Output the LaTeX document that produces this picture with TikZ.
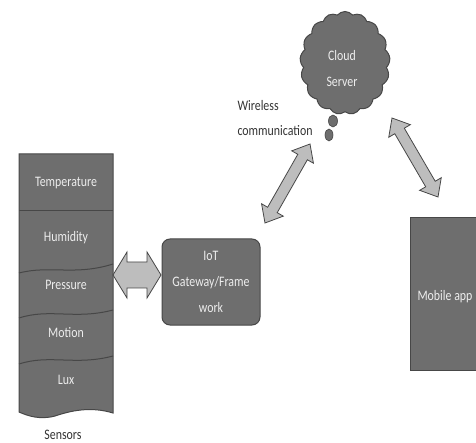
\documentclass[tikz,border=0pt]{standalone}
\usepackage{fontspec}
\setmainfont{Carlito}[FakeStretch=0.82]
\usetikzlibrary{calc}
\usetikzlibrary{shapes.symbols}
\definecolor{boxfill}{HTML}{6E6E6E}
\definecolor{boxedge}{HTML}{474747}
\definecolor{arrfill}{HTML}{BDBDBD}
\definecolor{boxtext}{HTML}{EDEDED}
\definecolor{labtext}{HTML}{333333}
\tikzset{
  boxstyle/.style={fill=boxfill,draw=boxedge,line width=1pt},
  intext/.style={text=boxtext,font=\fontsize{14.5}{26}\selectfont,align=center},
  lab/.style={text=labtext,font=\fontsize{14.5}{25}\selectfont,align=left},
  fatstyle/.style={fill=arrfill,draw=boxedge,line width=0.8pt,line join=miter},
}
% from, to, shaft half width, head half width, head length
\newcommand{\fatlink}[5]{%
  \draw[fatstyle] let \p1=($(#1)!#5!(#2)$), \p2=($(#2)!#5!(#1)$) in
    (#1) -- ($(\p1)!#4!90:(#2)$) -- ($(\p1)!#3!90:(#2)$)
    -- ($(\p2)!#3!-90:(#1)$) -- ($(\p2)!#4!-90:(#1)$) -- (#2)
    -- ($(\p2)!#4!90:(#1)$) -- ($(\p2)!#3!90:(#1)$)
    -- ($(\p1)!#3!-90:(#2)$) -- ($(\p1)!#4!-90:(#2)$) -- cycle;
}
\begin{document}
\begin{tikzpicture}[x=1pt,y=-1pt]
\useasboundingbox (0,0) rectangle (476,443);
% sensor stack
\path[boxstyle] (19,154) -- (113,154) -- (113,413)
  .. controls (90,406) and (70,411) .. (55,416)
  .. controls (40,420) and (28,416) .. (19,412) -- cycle;
\draw[boxedge,line width=1pt] (19,211) -- (113,211);
\draw[boxedge,line width=1pt] (19,273) .. controls (50,265) and (75,276) .. (113,264);
\draw[boxedge,line width=1pt] (19,318) .. controls (50,308) and (75,320) .. (113,310);
\draw[boxedge,line width=1pt] (19,364) .. controls (50,354) and (75,366) .. (113,356);
\node[intext] (temp) at (66,183) {Temperature};
\node[intext] (hum) at (66,238) {Humidity};
\node[intext] (pres) at (66,285) {Pressure};
\node[intext] (mot) at (66,333) {Motion};
\node[intext] (lux) at (66,380) {Lux};
\node[lab] (sens) at (63,435) {Sensors};
% gateway
\node[boxstyle,rounded corners=8pt,minimum width=98pt,minimum height=86pt,
      intext,inner sep=2pt] (gw) at (211,282) {IoT\\Gateway/Frame\\work};
% mobile app
\node[boxstyle,minimum width=80pt,minimum height=153pt,anchor=north west] (mob) at (410,217) {};
\node[intext] (mobt) at (445,297) {Mobile app};
% cloud
\node[cloud,cloud puffs=17,cloud puff arc=100,aspect=0.85,boxstyle,
      minimum width=90pt,minimum height=103pt] (cloud) at (345,63) {};
\node[intext] (cloudt) at (342,69) {Cloud\\Server};
\path[boxstyle,line width=0.6pt] (333,121) ellipse (4.5pt and 6pt);
\path[boxstyle,line width=0.6pt] (329,135) ellipse (4pt and 6pt);
\node[lab,anchor=west] (wl) at (234,118) {Wireless\\communication};
% arrows
\coordinate (s1) at (113,275);
\coordinate (g1) at (161,275);
\fatlink{s1}{g1}{13pt}{23pt}{14pt}
\coordinate (c1) at (310,144);
\coordinate (g2) at (265,223);
\fatlink{c1}{g2}{5.5pt}{12.5pt}{15pt}
\coordinate (c2) at (392,118);
\coordinate (m2) at (438,197);
\fatlink{c2}{m2}{5.5pt}{12.5pt}{15pt}
\end{tikzpicture}
\end{document}
